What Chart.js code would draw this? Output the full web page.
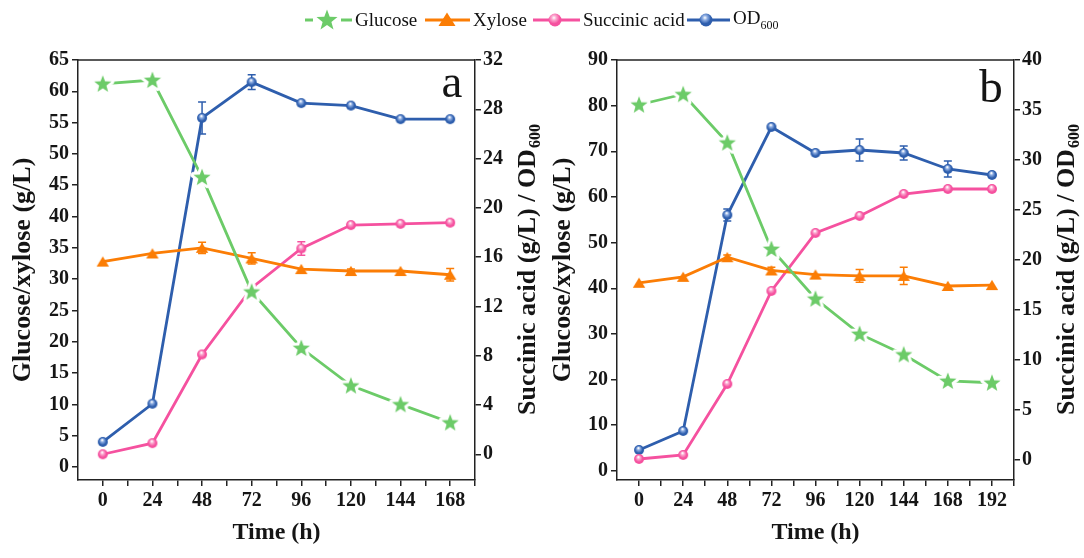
<!DOCTYPE html>
<html>
<head>
<meta charset="utf-8">
<script src="https://cdn.jsdelivr.net/npm/chart.js@4.4.1/dist/chart.umd.min.js"></script>
<style>
  body { margin: 0; background: #fff; width: 1084px; height: 558px; position: relative; overflow: hidden; font-family: "Liberation Serif", serif; }
  canvas { position: absolute; top: 0; }
  #chartA { left: 0; }
  #chartB { left: 540px; }
  .lg { position: absolute; top: 8px; height: 24px; display: flex; align-items: center; font-size: 19px; color: #111; white-space: nowrap; }
  .lg svg { margin-right: 3px; }
  .lg sub { font-size: 12px; }
</style>
</head>
<body>
<canvas id="chartA" width="540" height="558"></canvas>
<canvas id="chartB" width="544" height="558"></canvas>
<div id="legend"></div>
<script>
// panel a
const timesA = [0, 24, 48, 72, 96, 120, 144, 168];
const glucoseA = [61.2, 61.8, 46.3, 28.0, 19.0, 13.0, 10.0, 7.1];
const glucoseErrA = [0.6, 0, 0.8, 1.1, 0, 0, 0, 0];
const xyloseA = [32.8, 34.1, 35.0, 33.3, 31.6, 31.3, 31.3, 30.7];
const xyloseErrA = [0, 0, 0.9, 0.9, 0, 0.3, 0, 1.0];
const succinicA = [0.0, 0.9, 8.1, 13.5, 16.7, 18.6, 18.7, 18.8];
const succinicErrA = [0, 0, 0, 0, 0.55, 0, 0, 0.2];
const odA = [1.0, 4.1, 27.3, 30.2, 28.5, 28.3, 27.2, 27.2];
const odErrA = [0, 0, 1.3, 0.6, 0, 0, 0, 0];
const leftTicksA = [0, 5, 10, 15, 20, 25, 30, 35, 40, 45, 50, 55, 60, 65];
const rightTicksA = [0, 4, 8, 12, 16, 20, 24, 28, 32];

// panel b
const timesB = [0, 24, 48, 72, 96, 120, 144, 168, 192];
const glucoseB = [80.2, 82.5, 71.9, 48.6, 37.7, 30.0, 25.5, 19.7, 19.3];
const glucoseErrB = [0, 0, 0.5, 0, 0, 0, 0, 0, 0];
const xyloseB = [41.2, 42.5, 46.8, 43.9, 43.0, 42.7, 42.7, 40.5, 40.7];
const xyloseErrB = [0, 0, 0.5, 0.7, 0, 1.4, 1.9, 0, 0];
const succinicB = [0.1, 0.5, 7.6, 16.9, 22.7, 24.4, 26.6, 27.1, 27.1];
const succinicErrB = [0, 0, 0, 0, 0, 0, 0, 0, 0];
const odB = [1.0, 2.9, 24.5, 33.3, 30.7, 31.0, 30.7, 29.1, 28.5];
const odErrB = [0, 0, 0.6, 0, 0, 1.1, 0.7, 0.8, 0];
const leftTicksB = [0, 10, 20, 30, 40, 50, 60, 70, 80, 90];
const rightTicksB = [0, 5, 10, 15, 20, 25, 30, 35, 40];

const GREEN = '#6ccb68', ORANGE = '#fb7d05', PINK = '#f5519f', BLUE = '#2e5ead';
const INK = '#151515';

function starPoints(cx, cy, R, r) {
  let pts = [];
  for (let i = 0; i < 10; i++) {
    let a = -Math.PI / 2 + i * Math.PI / 5;
    let rad = i % 2 ? r : R;
    pts.push([cx + rad * Math.cos(a), cy + rad * Math.sin(a)]);
  }
  return pts;
}

function makeStar() {
  let c = document.createElement('canvas');
  c.width = 28; c.height = 28;
  let ctx = c.getContext('2d');
  let pts = starPoints(14, 14.6, 9, 3.8);
  ctx.beginPath();
  pts.forEach((p, i) => i ? ctx.lineTo(p[0], p[1]) : ctx.moveTo(p[0], p[1]));
  ctx.closePath();
  ctx.lineJoin = 'round';
  ctx.strokeStyle = '#fff'; ctx.lineWidth = 6; ctx.stroke();
  ctx.fillStyle = GREEN; ctx.fill();
  return c;
}

function makeTriangle() {
  let c = document.createElement('canvas');
  c.width = 14; c.height = 14;
  let ctx = c.getContext('2d');
  ctx.beginPath();
  ctx.moveTo(7, 1.8); ctx.lineTo(13.2, 12); ctx.lineTo(0.8, 12); ctx.closePath();
  ctx.fillStyle = ORANGE; ctx.fill();
  return c;
}

function makeBall(color, light) {
  let c = document.createElement('canvas');
  c.width = 12; c.height = 12;
  let ctx = c.getContext('2d');
  let g = ctx.createRadialGradient(5.3, 4, 0.4, 6, 6, 5.5);
  g.addColorStop(0, '#ffffff');
  g.addColorStop(0.25, light);
  g.addColorStop(0.65, color);
  g.addColorStop(1, color);
  ctx.beginPath(); ctx.arc(6, 6, 5, 0, Math.PI * 2);
  ctx.fillStyle = g; ctx.fill();
  return c;
}

const starImg = makeStar();
const triImg = makeTriangle();
const pinkImg = makeBall(PINK, '#fba8cf');
const blueImg = makeBall(BLUE, '#8eaee3');

// error bars, top frame, panel letter, right axis title
const panelPlugin = {
  id: 'panel',
  beforeDatasetsDraw(chart) {
    const ctx = chart.ctx;
    chart.data.datasets.forEach((ds, i) => {
      const meta = chart.getDatasetMeta(i);
      const ys = chart.scales[ds.yAxisID];
      ctx.save();
      ctx.strokeStyle = ds.borderColor;
      ctx.lineWidth = 1.5;
      ds.data.forEach((p, j) => {
        const e = ds.errors[j];
        if (!e) return;
        const x = meta.data[j].x;
        const y1 = ys.getPixelForValue(p.y + e), y2 = ys.getPixelForValue(p.y - e);
        ctx.beginPath();
        ctx.moveTo(x, y1); ctx.lineTo(x, y2);
        ctx.moveTo(x - 4, y1); ctx.lineTo(x + 4, y1);
        ctx.moveTo(x - 4, y2); ctx.lineTo(x + 4, y2);
        ctx.stroke();
      });
      ctx.restore();
    });
  },
  afterDraw(chart, args, opts) {
    const ctx = chart.ctx, a = chart.chartArea;
    ctx.save();
    ctx.strokeStyle = '#222'; ctx.lineWidth = 1.5;
    ctx.beginPath(); ctx.moveTo(a.left, a.top); ctx.lineTo(a.right, a.top); ctx.stroke();

    ctx.fillStyle = INK;
    ctx.font = '47px "Liberation Serif"';
    ctx.textAlign = 'center'; ctx.textBaseline = 'alphabetic';
    ctx.fillText(opts.letter, opts.letterX, opts.letterY);

    const main = 'Succinic acid (g/L) / OD', sub = '600';
    const mainFont = 'bold 26px "Liberation Serif"', subFont = 'bold 16px "Liberation Serif"';
    ctx.font = mainFont; const w1 = ctx.measureText(main).width;
    ctx.font = subFont; const w2 = ctx.measureText(sub).width;
    ctx.translate(opts.titleX, (a.top + a.bottom) / 2);
    ctx.rotate(-Math.PI / 2);
    ctx.textAlign = 'left'; ctx.textBaseline = 'middle';
    const x0 = -(w1 + w2) / 2;
    ctx.font = mainFont; ctx.fillText(main, x0, 0);
    ctx.font = subFont; ctx.fillText(sub, x0 + w1 + 1, 8);
    ctx.restore();
  }
};

function yScale(pos, min, max, ticks, width, title) {
  return {
    type: 'linear', position: pos, min: min, max: max,
    afterBuildTicks: s => { s.ticks = ticks.map(v => ({ value: v })); },
    afterFit: s => { s.width = width; },
    ticks: { font: { size: 20, weight: 'bold' }, color: INK, padding: pos === 'left' ? 3 : 2, autoSkip: false },
    grid: { drawOnChartArea: false, tickLength: 6, color: '#222', lineWidth: 1.5 },
    border: { color: '#222', width: 1.5 },
    title: { display: !!title, text: title, color: INK, font: { size: 26, weight: 'bold' }, padding: { top: 8, bottom: 0 } }
  };
}

function buildChart(id, cfg) {
  const pts = vals => cfg.times.map((t, i) => ({ x: t, y: vals[i] }));
  const line = (label, vals, errs, color, img, axis) => ({
    label: label, data: pts(vals), errors: errs, yAxisID: axis,
    borderColor: color, backgroundColor: color, borderWidth: 2.8,
    pointStyle: img, pointRadius: 5, pointHoverRadius: 5, tension: 0, fill: false
  });
  const minorTicks = [];
  cfg.times.forEach(t => { minorTicks.push(t); minorTicks.push(t + 12); });

  new Chart(document.getElementById(id), {
    type: 'line',
    data: {
      datasets: [
        line('Glucose', cfg.glucose, cfg.glucoseErr, GREEN, starImg, 'y'),
        line('Xylose', cfg.xylose, cfg.xyloseErr, ORANGE, triImg, 'y'),
        line('Succinic acid', cfg.succinic, cfg.succinicErr, PINK, pinkImg, 'y2'),
        line('OD600', cfg.od, cfg.odErr, BLUE, blueImg, 'y2')
      ]
    },
    options: {
      responsive: false,
      animation: false,
      events: [],
      layout: { padding: { top: 60, left: 0, right: 0, bottom: 0 } },
      plugins: { legend: { display: false }, tooltip: { enabled: false }, panel: cfg.panel },
      scales: {
        x: {
          type: 'linear', min: -12, max: cfg.xMax,
          afterBuildTicks: s => { s.ticks = minorTicks.map(v => ({ value: v })); },
          afterFit: s => { s.height = 78; },
          ticks: {
            font: { size: 20, weight: 'bold' }, color: INK, padding: 3,
            autoSkip: false, maxRotation: 0, minRotation: 0,
            callback: v => cfg.times.includes(v) ? String(v) : ''
          },
          grid: { drawOnChartArea: false, tickLength: 6, color: '#222', lineWidth: 1.5 },
          border: { color: '#222', width: 1.5 },
          title: { display: true, text: 'Time (h)', color: INK, font: { size: 24, weight: 'bold' }, padding: { top: 0, bottom: 11 } }
        },
        y: yScale('left', cfg.yMin, cfg.yMax, cfg.leftTicks, cfg.leftW, 'Glucose/xylose (g/L)'),
        y2: yScale('right', cfg.y2Min, cfg.y2Max, cfg.rightTicks, cfg.rightW, '')
      }
    },
    plugins: [panelPlugin]
  });
}

Chart.defaults.font.family = '"Liberation Serif", serif';

buildChart('chartA', {
  times: timesA, xMax: 180,
  glucose: glucoseA, glucoseErr: glucoseErrA, xylose: xyloseA, xyloseErr: xyloseErrA,
  succinic: succinicA, succinicErr: succinicErrA, od: odA, odErr: odErrA,
  yMin: -2.08, yMax: 65, leftTicks: leftTicksA, leftW: 78,
  y2Min: -2.09, y2Max: 32, rightTicks: rightTicksA, rightW: 65,
  panel: { letter: 'a', letterX: 452, letterY: 97, titleX: 528 }
});

buildChart('chartB', {
  times: timesB, xMax: 204,
  glucose: glucoseB, glucoseErr: glucoseErrB, xylose: xyloseB, xyloseErr: xyloseErrB,
  succinic: succinicB, succinicErr: succinicErrB, od: odB, odErr: odErrB,
  yMin: -2, yMax: 90, leftTicks: leftTicksB, leftW: 77,
  y2Min: -2, y2Max: 40, rightTicks: rightTicksB, rightW: 70,
  panel: { letter: 'b', letterX: 451, letterY: 102, titleX: 527 }
});

// legend
function svgStar(cx, cy, R, r) {
  return '<polygon fill="' + GREEN + '" points="' + starPoints(cx, cy, R, r).map(p => p[0].toFixed(1) + ',' + p[1].toFixed(1)).join(' ') + '"/>';
}
function ball(cx, color, light, id) {
  return '<defs><radialGradient id="' + id + '" cx="0.42" cy="0.33" r="0.6"><stop offset="0" stop-color="#fff"/><stop offset="0.3" stop-color="' + light + '"/><stop offset="0.75" stop-color="' + color + '"/></radialGradient></defs>' +
    '<circle cx="' + cx + '" cy="12" r="6.5" fill="url(#' + id + ')"/>';
}
const legendItems = [
  { left: 305, w: 47, text: 'Glucose', icon: '<line x1="0" y1="12" x2="8" y2="12" stroke="' + GREEN + '" stroke-width="3"/><line x1="36" y1="12" x2="47" y2="12" stroke="' + GREEN + '" stroke-width="3"/>' + svgStar(22, 12.5, 11, 4.6) },
  { left: 425, w: 45, text: 'Xylose', icon: '<line x1="0" y1="12" x2="45" y2="12" stroke="' + ORANGE + '" stroke-width="3"/><polygon fill="' + ORANGE + '" points="22,4.5 30.5,18 13.5,18"/>' },
  { left: 533, w: 47, text: 'Succinic acid', icon: '<line x1="0" y1="12" x2="47" y2="12" stroke="' + PINK + '" stroke-width="3"/>' + ball(22, PINK, '#fba8cf', 'gp') },
  { left: 687, w: 43, text: 'OD<sub>600</sub>', icon: '<line x1="0" y1="12" x2="43" y2="12" stroke="' + BLUE + '" stroke-width="3"/>' + ball(19, BLUE, '#8eaee3', 'gb') }
];
document.getElementById('legend').innerHTML = legendItems.map(it =>
  '<div class="lg" style="left:' + it.left + 'px"><svg width="' + it.w + '" height="24">' + it.icon + '</svg><span>' + it.text + '</span></div>'
).join('');
</script>
</body>
</html>
